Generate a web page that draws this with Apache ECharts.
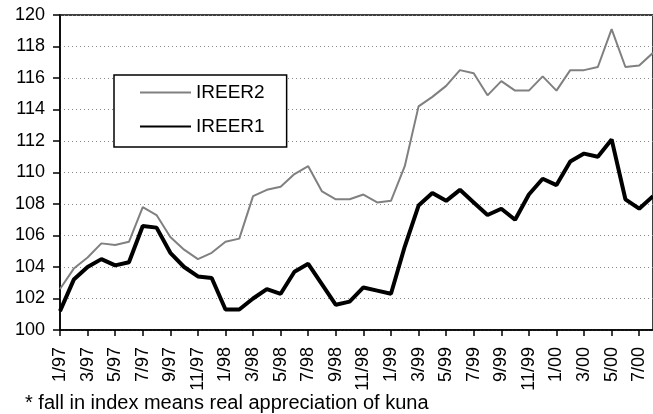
<!DOCTYPE html>
<html>
<head>
<meta charset="utf-8">
<script src="https://cdn.jsdelivr.net/npm/echarts@6/dist/echarts.min.js"></script>
<style>
html,body{margin:0;padding:0;background:#fff;}
#chart{width:653px;height:414px;}
</style>
</head>
<body>
<div id="chart"></div>
<script>
var categories = ['1/97','2/97','3/97','4/97','5/97','6/97','7/97','8/97','9/97','10/97','11/97','12/97',
  '1/98','2/98','3/98','4/98','5/98','6/98','7/98','8/98','9/98','10/98','11/98','12/98',
  '1/99','2/99','3/99','4/99','5/99','6/99','7/99','8/99','9/99','10/99','11/99','12/99',
  '1/00','2/00','3/00','4/00','5/00','6/00','7/00','8/00'];
var ireer2 = [102.6,103.9,104.6,105.5,105.4,105.6,107.8,107.3,105.9,105.1,104.5,104.9,
  105.6,105.8,108.5,108.9,109.1,109.9,110.4,108.8,108.3,108.3,108.6,108.1,
  108.2,110.4,114.2,114.8,115.5,116.5,116.3,114.9,115.8,115.2,115.2,116.1,
  115.2,116.5,116.5,116.7,119.1,116.7,116.8,117.6];
var ireer1 = [101.2,103.2,104.0,104.5,104.1,104.3,106.6,106.5,104.9,104.0,103.4,103.3,
  101.3,101.3,102.0,102.6,102.3,103.7,104.2,102.9,101.6,101.8,102.7,102.5,
  102.3,105.3,107.9,108.7,108.2,108.9,108.1,107.3,107.7,107.0,108.6,109.6,
  109.2,110.7,111.2,111.0,112.1,108.3,107.7,108.5];
var yTicks = {min:100, max:120, interval:2};
var footnote = '* fall in index means real appreciation of kuna';

var FONT = 'Liberation Sans, Arial, sans-serif';
var chart = echarts.init(document.getElementById('chart'), null, {renderer:'canvas'});
chart.setOption({
  animation:false,
  backgroundColor:'#fff',
  grid:{left:60, top:15, bottom:84, right:-6, show:true, borderColor:'#000', borderWidth:1.5, backgroundColor:'transparent'},
  xAxis:{
    type:'category', data:categories, boundaryGap:false,
    axisLine:{lineStyle:{color:'#000', width:1.5}},
    axisTick:{show:true, interval:1, length:6, lineStyle:{color:'#000', width:1.5}},
    axisLabel:{interval:1, rotate:90, margin:17, color:'#000', fontFamily:FONT, fontSize:18},
    splitLine:{show:false}
  },
  yAxis:{
    type:'value', min:yTicks.min, max:yTicks.max, interval:yTicks.interval,
    axisLine:{show:true, lineStyle:{color:'#000', width:1.5}},
    axisTick:{show:true, length:7, lineStyle:{color:'#000', width:1.5}},
    axisLabel:{margin:15, color:'#000', fontFamily:FONT, fontSize:18},
    splitLine:{show:true, lineStyle:{color:'#888', type:[1,3], width:1}}
  },
  legend:{
    data:['IREER2','IREER1'], orient:'vertical', left:114, top:75,
    padding:[8,22,11,25], itemGap:15, itemWidth:51, itemHeight:14,
    borderColor:'#000', borderWidth:1.5, backgroundColor:'#fff',
    itemStyle:{color:'rgba(0,0,0,0)', borderColor:'rgba(0,0,0,0)', borderWidth:0},
    textStyle:{color:'#000', fontFamily:FONT, fontSize:19}
  },
  series:[
    {name:'IREER2', type:'line', data:ireer2, symbol:'none', lineStyle:{color:'#808080', width:2}, itemStyle:{color:'#808080'}},
    {name:'IREER1', type:'line', data:ireer1, symbol:'none', lineStyle:{color:'#000', width:4}, itemStyle:{color:'#000'}}
  ],
  graphic:[{type:'text', left:25, top:393, style:{text:footnote, fill:'#000', font:'20px ' + FONT}}]
});
</script>
</body>
</html>
